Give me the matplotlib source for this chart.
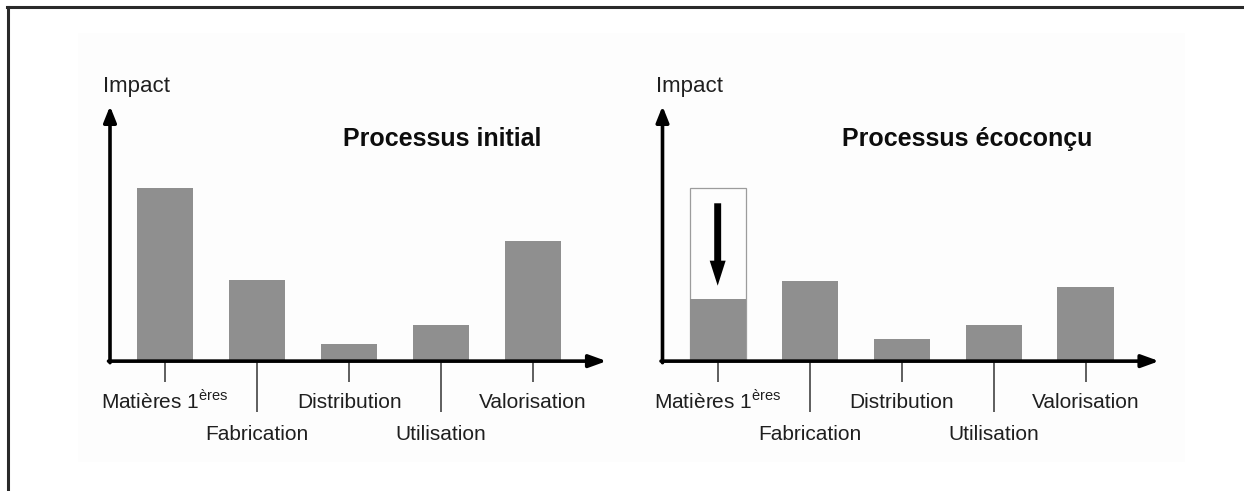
import matplotlib
matplotlib.use("Agg")
import matplotlib.pyplot as plt
from matplotlib.lines import Line2D
from matplotlib.patches import ArrowStyle, FancyArrowPatch, Rectangle

plt.rcParams["font.family"] = ["Liberation Sans", "DejaVu Sans"]
plt.rcParams["mathtext.fontset"] = "custom"
plt.rcParams["mathtext.rm"] = "Liberation Sans"

# ── Data ──────────────────────────────────────────────────────────
stages = [
    r"Matières 1$^{\mathrm{ères}}$",
    "Fabrication",
    "Distribution",
    "Utilisation",
    "Valorisation",
]
impact_initial = [100, 47, 10, 21, 69]   # processus initial
impact_eco = [36, 46, 13, 21, 43]        # processus écoconçu
reduced_stage = 0                        # étape dont l'impact a été réduit

# ── Style ─────────────────────────────────────────────────────────
_BAR = "#8f8f8f"
_INK = "#0d0d0d"
_TEXT = "#1f1f1f"
_TICK = "#333333"
_BOX = "#9c9c9c"

W, H = 1244, 491
YMAX = 147
BAR_W = 0.61
ROW_Y = [-0.184, -0.31]          # baselines of the two label rows (axes fraction)


def _axis_arrows(ax):
    for xy0, xy1, style in [
        ((-0.003, 0), (1, 0), "-|>,head_length=10.5,head_width=3.8"),
        ((0, -0.006), (0, 1), "-|>,head_length=9.5,head_width=3.8"),
    ]:
        ax.add_patch(FancyArrowPatch(
            xy0, xy1, transform=ax.transAxes, arrowstyle=style,
            mutation_scale=1, lw=2.6, color="black",
            shrinkA=0, shrinkB=0, clip_on=False, zorder=4,
        ))


def draw_panel(rect, values, title, title_x, before=None):
    ax = fig.add_axes(rect)
    ax.set_facecolor("none")
    x = list(range(len(values)))

    ax.bar(x, values, width=BAR_W, color=_BAR, edgecolor="none", zorder=2)
    ax.set_xlim(-0.6, 4.8)
    ax.set_ylim(0, YMAX)

    for sp in ax.spines.values():
        sp.set_visible(False)
    ax.set_yticks([])
    # alternate short / long ticks so the labels fit on two rows
    ax.set_xticks(x[0::2])
    ax.set_xticks(x[1::2], minor=True)
    ax.tick_params(axis="x", which="major", length=15, width=1.1,
                   color=_TICK, labelbottom=False)
    ax.tick_params(axis="x", which="minor", length=37, width=1.1,
                   color=_TICK, labelbottom=False)

    trans = ax.get_xaxis_transform()
    for i, name in enumerate(stages):
        ax.text(i, ROW_Y[i % 2], name, transform=trans, ha="center",
                va="baseline", fontsize=15, color=_TEXT)

    _axis_arrows(ax)

    ax.text(-0.014, 1.055, "Impact", transform=ax.transAxes, ha="left",
            va="baseline", fontsize=16, color=_TEXT)
    ax.text(title_x, 0.843, title, transform=ax.transAxes, ha="left",
            va="baseline", fontsize=18, fontweight="bold", color=_INK)

    if before is not None:
        i = reduced_stage
        ax.add_patch(Rectangle((i - BAR_W / 2, 0), BAR_W, before, fill=False,
                               ec=_BOX, lw=0.9, zorder=1))
        ax.add_patch(FancyArrowPatch(
            (i, before - 9), (i, values[i] + 7.5),
            arrowstyle=ArrowStyle("Simple", head_length=18, head_width=11.5,
                                  tail_width=5),
            mutation_scale=1, fc="black", ec="none",
            shrinkA=0, shrinkB=0, zorder=3,
        ))
    return ax


fig = plt.figure(figsize=(W / 100, H / 100), dpi=100, facecolor="white")

# faint panel behind both charts and the frame (top and left edges)
fig.patches.append(Rectangle((78 / W, 1 - 462 / H), (1185 - 78) / W,
                             (462 - 33) / H, transform=fig.transFigure,
                             fc="#fdfdfd", ec="none", zorder=-1))
fig.add_artist(Line2D([7 / W, 1], [1 - 7 / H] * 2, transform=fig.transFigure,
                      lw=2.2, color="#2a2a2a"))
fig.add_artist(Line2D([8 / W] * 2, [0, 1 - 7 / H], transform=fig.transFigure,
                      lw=2.2, color="#2a2a2a"))

panel_w, panel_h, panel_b = 0.3992, 0.5193, 0.2645
draw_panel([110 / W, panel_b, panel_w, panel_h], impact_initial,
           "Processus initial", 0.469)
draw_panel([662.5 / W, panel_b, panel_w, panel_h], impact_eco,
           "Processus écoconçu", 0.362,
           before=impact_initial[reduced_stage])

fig.savefig("out.png", dpi=100, facecolor="white")
